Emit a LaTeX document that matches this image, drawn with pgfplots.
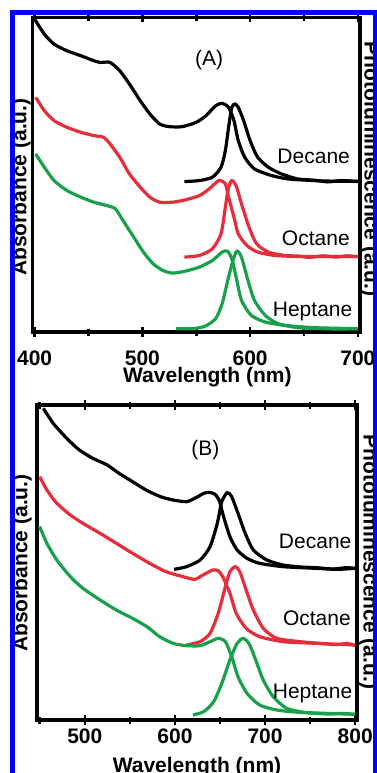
\documentclass[border=0pt]{standalone}
\usepackage{fontspec}
\setmainfont{Liberation Sans}
\usepackage{pgfplots}
\pgfplotsset{compat=1.18}
\definecolor{cred}{RGB}{230,45,60}
\definecolor{cgreen}{RGB}{25,160,75}
\definecolor{cblue}{RGB}{0,0,255}
\newcommand{\bigf}{\fontsize{21}{21}\selectfont}
\tikzset{lbl/.style={font=\bigf, anchor=base}}
\pgfplotsset{
  myaxis/.style={
    scale only axis,
    ymin=0, ymax=945,
    ytick=\empty,
    axis line style={line width=3.3pt},
    tick align=center,
    xtick pos=both,
    xticklabel pos=lower,
    major tick length=10pt,
    minor tick length=7pt,
    every tick/.append style={line width=2.5pt, black},
    tick label style={font=\bigf\bfseries},
    /pgf/number format/assume math mode=true,
    label style={font=\bigf\bfseries, inner sep=0pt},
    every axis plot/.append style={line width=3.2pt},
  },
}
\begin{document}
\begin{tikzpicture}[x=1pt,y=1pt]
\useasboundingbox (0,0) rectangle (377,-773);
% ---------------- Panel A ----------------
\begin{axis}[myaxis,
  at={(32.5pt,-332pt)}, anchor=south west,
  width=327.5pt, height=314.5pt,
  xmin=398, xmax=702,
  xtick={400,500,600,700}, minor xtick={450,550,650},
  xticklabel style={inner sep=0pt, yshift=-14pt},
  xlabel={Wavelength (nm)},
  xlabel style={at={(axis description cs:0.534,-0.162)}, anchor=base},
  ylabel={Absorbance (a.u.)},
  ylabel style={at={(axis description cs:-0.035,0.461)}, anchor=center},
  extra description/.code={
    \node[font=\bigf\bfseries, rotate=-90, anchor=center, inner sep=0pt] at (1.0305,0.518) {Photoluminescence (a.u.)};
  },
]
\addplot[black, smooth, tension=0.4] coordinates {
(400,940)(409,895)(418,865)(430,845)(443,830)(455,815)(461,810)(470,810)(479,785)(488,745)(498,695)(507,655)(516,625)(525,617)(537,617)(550,630)(559,650)(568,680)(574,687)(580,675)(585,635)(589,575)(595,525)(604,490)(620,470)(635,460)(659,455)(680,453)(700,453)};
\addplot[black, smooth, tension=0.4] coordinates {
(539,452)(553,455)(565,465)(573,495)(577,545)(580,615)(583,675)(586,685)(589,675)(594,635)(600,575)(607,525)(617,495)(629,475)(644,460)(660,456)(672,451)(685,455)(700,452)};
\addplot[cred, smooth, tension=0.4] coordinates {
(401,705)(409,665)(418,635)(430,615)(443,600)(455,590)(464,585)(470,565)(479,525)(488,475)(498,435)(507,405)(516,390)(528,390)(540,397)(553,410)(562,430)(571,455)(577,445)(580,405)(585,345)(589,295)(597,260)(607,240)(623,230)(644,227)(670,227)(700,227)};
\addplot[cred, smooth, tension=0.4] coordinates {
(539,225)(553,230)(565,250)(573,295)(577,375)(580,435)(583,455)(587,440)(592,385)(599,315)(606,265)(617,240)(632,230)(645,228)(655,224)(668,229)(680,225)(690,229)(700,226)};
\addplot[cgreen, smooth, tension=0.4] coordinates {
(401,535)(409,495)(418,455)(430,425)(443,405)(455,390)(467,380)(475,370)(482,335)(492,285)(501,240)(510,205)(519,185)(528,177)(540,183)(553,195)(565,215)(574,240)(579,243)(583,220)(587,165)(592,95)(601,50)(614,30)(632,20)(659,13)(700,10)};
\addplot[cgreen, smooth, tension=0.4] coordinates {
(531,10)(546,10)(558,17)(568,40)(574,85)(580,165)(585,225)(588,243)(592,225)(598,155)(604,95)(614,50)(626,25)(644,13)(660,11)(680,9)(700,10)};
\node[lbl] at (axis cs:659,505) {Decane};
\node[lbl] at (axis cs:661,260) {Octane};
\node[lbl] at (axis cs:658,48) {Heptane};
\node[lbl] at (axis cs:562,800) {(A)};
\end{axis}
% ---------------- Panel B ----------------
\begin{axis}[myaxis,
  at={(37pt,-720pt)}, anchor=south west,
  width=320pt, height=315pt,
  xmin=447, xmax=802,
  xtick={500,600,700,800}, minor xtick={450,550,650,750},
  xticklabel style={inner sep=0pt, yshift=-4pt},
  xlabel={Wavelength (nm)},
  xlabel style={at={(axis description cs:0.5,-0.168)}, anchor=base},
  ylabel={Absorbance (a.u.)},
  ylabel style={at={(axis description cs:-0.047,0.498)}, anchor=center},
  extra description/.code={
    \node[font=\bigf\bfseries, rotate=-90, anchor=center, inner sep=0pt] at (1.0375,0.502) {Photoluminescence (a.u.)};
  },
]
\addplot[black, smooth, tension=0.4] coordinates {
(454,935)(465,890)(480,845)(494,810)(509,785)(525,765)(538,740)(553,715)(568,690)(584,670)(598,660)(613,655)(624,668)(632,680)(638,683)(644,678)(649,660)(654,610)(661,550)(669,510)(680,485)(694,470)(720,460)(757,455)(780,452)(800,455)};
\addplot[black, smooth, tension=0.4] coordinates {
(599,452)(613,460)(628,480)(639,520)(647,590)(652,655)(658,682)(663,670)(670,620)(678,560)(687,510)(702,480)(720,465)(740,459)(757,457)(775,453)(790,457)(800,455)};
\addplot[cred, smooth, tension=0.4] coordinates {
(450,730)(458,690)(469,650)(484,615)(498,590)(517,560)(535,530)(553,500)(572,470)(590,445)(609,430)(622,422)(631,435)(642,450)(648,448)(653,430)(661,380)(668,320)(679,275)(694,250)(720,235)(757,230)(800,225)};
\addplot[cred, smooth, tension=0.4] coordinates {
(613,225)(628,235)(639,260)(648,320)(656,400)(661,445)(667,460)(672,445)(679,390)(687,330)(698,275)(713,245)(739,235)(760,230)(780,226)(790,230)(800,224)};
\addplot[cgreen, smooth, tension=0.4] coordinates {
(450,580)(458,530)(469,480)(484,430)(498,395)(517,360)(535,330)(553,305)(569,280)(583,250)(598,230)(613,223)(628,223)(639,235)(648,245)(656,235)(663,190)(670,130)(680,80)(694,45)(713,30)(739,23)(800,17)};
\addplot[cgreen, smooth, tension=0.4] coordinates {
(620,15)(632,25)(643,55)(652,110)(661,180)(669,230)(676,245)(683,225)(691,170)(698,120)(709,70)(724,35)(746,22)(770,18)(785,20)(800,17)};
\node[lbl] at (axis cs:755.6,515) {Decane};
\node[lbl] at (axis cs:757.5,285) {Octane};
\node[lbl] at (axis cs:752.7,65) {Heptane};
\node[lbl] at (axis cs:633.7,795) {(B)};
\end{axis}
% frame
\draw[cblue, line width=5pt] (12.5,-12.5) rectangle (375.5,-775.5);
\end{tikzpicture}
\end{document}
